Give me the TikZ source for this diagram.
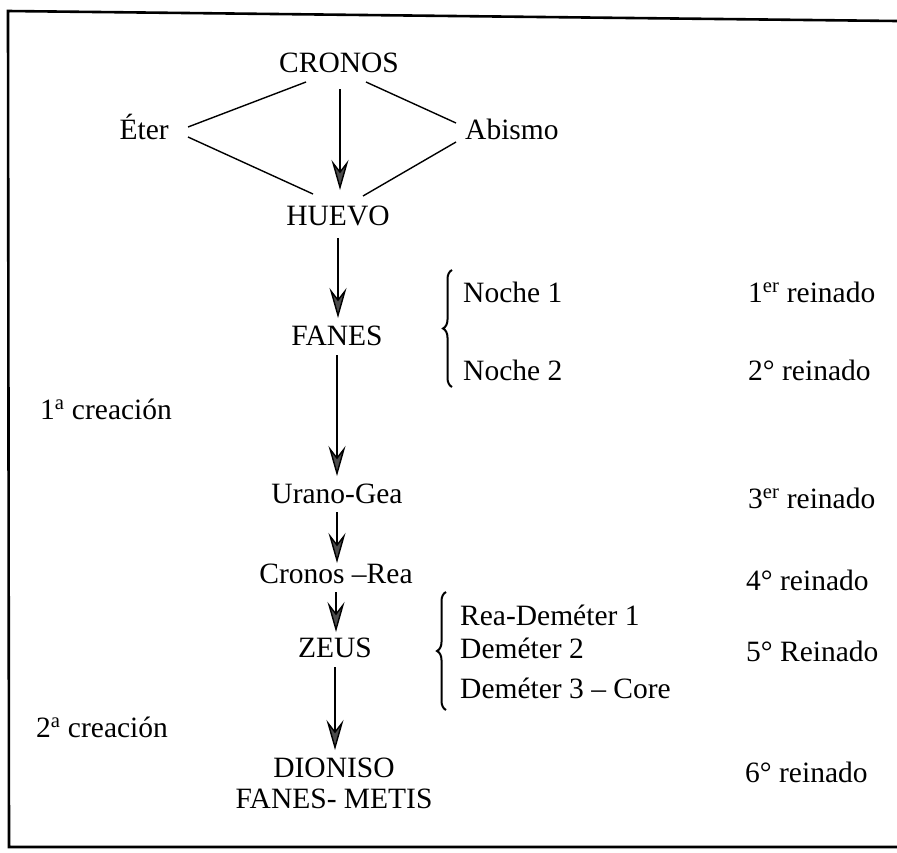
\documentclass[tikz,border=0pt]{standalone}
\usepackage{fontspec}
\setmainfont{Liberation Serif}
\usetikzlibrary{arrows.meta,calc,decorations.pathreplacing}
\begin{document}
\begin{tikzpicture}[x=1pt,y=-1pt,
  every node/.style={inner sep=0pt, font=\fontsize{29.5}{32}\selectfont},
  mid/.style={anchor=base},
  lbl/.style={anchor=base west},
  link/.style={line width=1.4pt},
  descent/.style={line width=1.4pt,
    -{Stealth[length=30pt,width=17pt,inset=11pt,fill=black!70]}},
  curly/.style={line width=2pt, decorate, decoration={brace, amplitude=9pt}},
  frame/.style={line width=2.6pt}]
\useasboundingbox (0,0) rectangle (897,852);

% open frame
\draw[frame] (897,21) -- (8,11) -- (9,847) -- (897,847);

% main column
\node[mid] (cronos) at (339,72) {CRONOS};
\node[anchor=base east] (eter) at (169,139) {Éter};
\node[lbl] (abismo) at (465,139) {Abismo};
\node[mid] (huevo) at (338,225) {HUEVO};
\node[mid] (fanes) at (337,345) {FANES};
\node[mid] (urano) at (337,503) {Urano-Gea};
\node[mid] (cronosrea) at (336,583) {Cronos –Rea};
\node[mid] (zeus) at (335,657) {ZEUS};
\node[mid] (dioniso) at (334,777) {DIONISO};
\node[mid] (metis) at (334,808) {FANES- METIS};

% side lists
\node[lbl] (noche1) at (463,302) {Noche 1};
\node[lbl] (noche2) at (463,380) {Noche 2};
\node[lbl] (dem1) at (460,625) {Rea-Deméter 1};
\node[lbl] (dem2) at (460,658) {Deméter 2};
\node[lbl] (dem3) at (460,698) {Deméter 3 – Core};

% creations
\node[lbl] (crea1) at (40,419) {1\textsuperscript{a} creación};
\node[lbl] (crea2) at (36,737) {2\textsuperscript{a} creación};

% reigns
\node[lbl] (r1) at (748,302) {1\textsuperscript{er} reinado};
\node[lbl] (r2) at (748,380) {2° reinado};
\node[lbl] (r3) at (748,508) {3\textsuperscript{er} reinado};
\node[lbl] (r4) at (746,590) {4° reinado};
\node[lbl] (r5) at (746,661) {5° Reinado};
\node[lbl] (r6) at (745,782) {6° reinado};

% diamond of lines around the first descent
\draw[link] ($(eter.base east)+(19,-12)$) -- ($(cronos.base)+(-33,10)$);
\draw[link] ($(eter.base east)+(19,-2)$) -- ($(huevo.base)+(-25,-31)$);
\draw[link] ($(cronos.base)+(27,10)$) -- ($(abismo.base west)+(-9,-16)$);
\draw[link] ($(abismo.base west)+(-9,3)$) -- ($(huevo.base)+(25,-29)$);

% descents
\draw[descent] ($(cronos.base)+(1,17)$) -- ($(huevo.base)+(2,-35)$);
\draw[descent] ($(huevo.base)+(0,13)$) -- ($(fanes.base)+(1,-27)$);
\draw[descent] ($(fanes.base)+(0,10)$) -- ($(urano.base)+(0,-27)$);
\draw[descent] ($(urano.base)+(0,9)$) -- ($(cronosrea.base)+(1,-20)$);
\draw[descent] ($(cronosrea.base)+(0,9)$) -- ($(zeus.base)+(1,-25)$);
\draw[descent] ($(zeus.base)+(0,10)$) -- ($(dioniso.base)+(1,-27)$);

% braces
\draw[curly] (452,387) -- (452,270);
\draw[curly] (446,710) -- (446,592);
\end{tikzpicture}
\end{document}
